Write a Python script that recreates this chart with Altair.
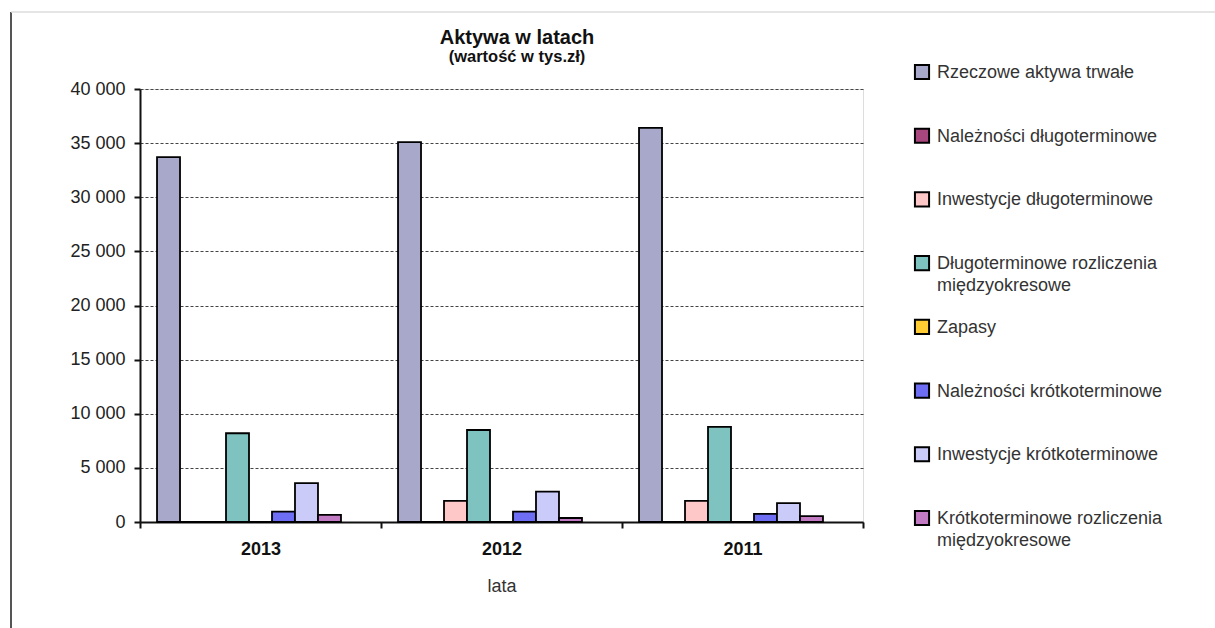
import altair as alt
import pandas as pd

title_text = "Aktywa w latach"
subtitle_text = "(wartość w tys.zł)"
years = ["2013", "2012", "2011"]
series = [
    "Rzeczowe aktywa trwałe",
    "Należności długoterminowe",
    "Inwestycje długoterminowe",
    "Długoterminowe rozliczenia\nmiędzyokresowe",
    "Zapasy",
    "Należności krótkoterminowe",
    "Inwestycje krótkoterminowe",
    "Krótkoterminowe rozliczenia\nmiędzyokresowe",
]
v2013 = [33700, 0, 0, 8200, 0, 950, 3600, 650]
v2012 = [35100, 0, 1950, 8500, 0, 950, 2800, 370]
v2011 = [36400, 0, 1950, 8780, 0, 750, 1750, 550]
colors = ["#A8A8CA", "#A8467E", "#FFC8C8", "#7EC3BF", "#FFCC33", "#6E6EF5", "#CBCBFA", "#C27BC2"]

rows = []
for y, vals in zip(years, [v2013, v2012, v2011]):
    for s, v in zip(series, vals):
        rows.append({"rok": y, "seria": s, "wartosc": v})
df = pd.DataFrame(rows)
legend_df = pd.DataFrame({"seria": series})
title_df = pd.DataFrame({"tytul": [title_text], "podtytul": [subtitle_text]})

FONT = "Liberation Sans"
color_scale = alt.Scale(domain=series, range=colors)
# one empty slot after each year's bar group (Excel leaves the gap mostly on the right)
offset_domain = series + ["__odstep"]

bars = alt.Chart(df).mark_bar(stroke="black", strokeWidth=1.8).encode(
    x=alt.X("rok:N", sort=years,
            scale=alt.Scale(paddingInner=0, paddingOuter=0),
            axis=alt.Axis(title="lata", labelAngle=0, labelFontWeight="bold",
                          labelFontSize=18, labelFont=FONT, labelColor="#111",
                          labelPadding=12, tickBand="extent", tickSize=6,
                          tickColor="#111", tickWidth=2, domainColor="#111",
                          domainWidth=2, titleFont=FONT, titleFontSize=18,
                          titleFontWeight="normal", titleColor="#333",
                          titlePadding=19, grid=False)),
    xOffset=alt.XOffset("seria:N",
                        scale=alt.Scale(domain=offset_domain, paddingInner=0,
                                        paddingOuter=0.74)),
    y=alt.Y("wartosc:Q", scale=alt.Scale(domain=[0, 40000], nice=False),
            axis=alt.Axis(title=None, values=list(range(0, 40001, 5000)),
                          labelExpr="replace(format(datum.value, ','), ',', ' ')",
                          labelFont=FONT, labelFontSize=18, labelColor="#222",
                          labelPadding=9, tickSize=6, tickColor="#111", tickWidth=2,
                          domainColor="#111", domainWidth=2,
                          grid=True, gridColor="#444", gridDash=[3, 2], gridWidth=1)),
    color=alt.Color("seria:N", sort=series, scale=color_scale, legend=None),
)

leg_y = alt.Y("seria:N", sort=series, axis=None,
              scale=alt.Scale(type="point", range=[-17, 429], padding=0))

leg_sym = alt.Chart(legend_df).mark_square(size=200, stroke="black", strokeWidth=2,
                                           opacity=1).encode(
    x=alt.value(782), y=leg_y,
    color=alt.Color("seria:N", scale=color_scale, legend=None),
)
leg_txt = alt.Chart(legend_df).mark_text(align="left", baseline="alphabetic", dy=6,
                                         lineBreak="\n", lineHeight=22, font=FONT,
                                         fontSize=18, color="#333").encode(
    x=alt.value(797), y=leg_y, text="seria:N",
)

title_mark = alt.Chart(title_df).mark_text(font=FONT, fontSize=20, fontWeight="bold",
                                           color="#111", align="center",
                                           baseline="middle").encode(
    x=alt.value(377), y=alt.value(-51), text="tytul:N")
subtitle_mark = alt.Chart(title_df).mark_text(font=FONT, fontSize=16.5, fontWeight="bold",
                                              color="#111", align="center",
                                              baseline="middle").encode(
    x=alt.value(377), y=alt.value(-32), text="podtytul:N")

frame_left = alt.Chart(title_df).mark_rule(color="#555", strokeWidth=2).encode(
    x=alt.value(-129), y=alt.value(-77), y2=alt.value(560))
frame_top = alt.Chart(title_df).mark_rule(color="#ddd", strokeWidth=1.5).encode(
    x=alt.value(-129), x2=alt.value(1100), y=alt.value(-77))

chart = alt.layer(frame_left, frame_top, bars, leg_sym, leg_txt,
                  title_mark, subtitle_mark).resolve_scale(
    y="independent"
).properties(
    width=723, height=433,
    padding={"left": 140, "top": 89, "right": 352, "bottom": 106},
    autosize=alt.AutoSizeParams(type="none"),
).configure_view(stroke="#8c8c8c", strokeWidth=1.5).configure(background="white")

chart.save("out.html", embed_options={"renderer": "svg", "actions": False})
